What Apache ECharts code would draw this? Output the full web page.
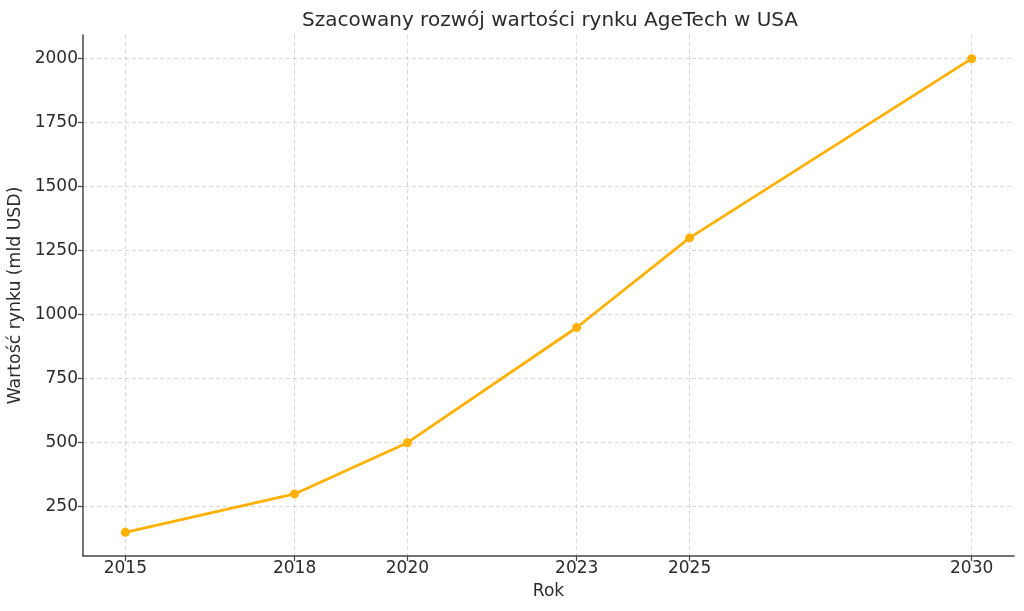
<!DOCTYPE html>
<html><head><meta charset="utf-8">
<script src="https://cdn.jsdelivr.net/npm/echarts@6/dist/echarts.min.js"></script>
<style>html,body{margin:0;padding:0;background:#fff}#c{width:1024px;height:611px}</style>
</head><body><div id="c"></div>
<script>
const years = [2015, 2018, 2020, 2023, 2025, 2030];
const values = [150, 300, 500, 950, 1300, 2000];
const yTicks = [250, 500, 750, 1000, 1250, 1500, 1750, 2000];
const titleText = 'Szacowany rozwój wartości rynku AgeTech w USA';
const xName = 'Rok';
const yName = 'Wartość rynku (mld USD)';

const font = 'DejaVu Sans';
const txt = '#2b2b2b';
const chart = echarts.init(document.getElementById('c'), null, {renderer: 'canvas'});
chart.setOption({
  backgroundColor: '#fff',
  animation: false,
  title: {text: titleText, left: 545, top: 6, textAlign: 'center',
    textStyle: {fontFamily: font, fontSize: 20, fontWeight: 'normal', color: txt}},
  grid: {left: 83, right: 10, top: 35, bottom: 55, containLabel: false, outerBoundsMode: 'none'},
  xAxis: {
    type: 'value', min: 2014.25, max: 2030.75,
    name: xName, nameLocation: 'middle', nameGap: 27,
    nameTextStyle: {fontFamily: font, fontSize: 17, color: txt},
    axisLine: {show: true, lineStyle: {color: '#444', width: 1.5}},
    axisTick: {show: true, inside: false, length: 5, customValues: years, lineStyle: {color: '#444', width: 1.2}},
    axisLabel: {customValues: years, fontFamily: font, fontSize: 17, color: txt, margin: 4,
      formatter: v => String(v)},
    splitLine: {show: true, lineStyle: {color: '#ccc', type: [4, 3], width: 0.8}}
  },
  yAxis: {
    type: 'value', min: 57.5, max: 2092.5,
    name: yName, nameLocation: 'middle', nameGap: 57, nameRotate: 90,
    nameTextStyle: {fontFamily: font, fontSize: 17.3, color: txt},
    axisLine: {show: true, lineStyle: {color: '#444', width: 1.5}},
    axisTick: {show: true, inside: false, length: 5, customValues: yTicks, lineStyle: {color: '#444', width: 1.2}},
    axisLabel: {customValues: yTicks, fontFamily: font, fontSize: 17, color: txt, margin: 5,
      formatter: v => String(v)},
    splitLine: {show: true, lineStyle: {color: '#ccc', type: [4, 3], width: 0.8}}
  },
  series: [{
    type: 'line',
    data: years.map((y, i) => [y, values[i]]),
    symbol: 'circle', symbolSize: 9,
    lineStyle: {color: '#FFB000', width: 2.8},
    itemStyle: {color: '#FFB000'},
    z: 5
  }]
});
</script></body></html>
